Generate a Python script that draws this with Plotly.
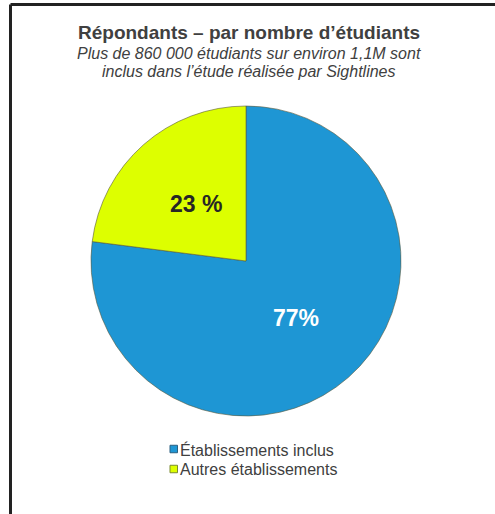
import math
import plotly.graph_objects as go

labels = ["Établissements inclus", "Autres établissements"]
values = [77, 23]
text_labels = ["77%", "23 %"]
colors = ["#1E96D4", "#DDFF00"]
text_colors = ["#FFFFFF", "#262626"]
legend_borders = ["#2a5f80", "#7a8a30"]

W, H = 495, 514
cx, cy, r = 246, 261, 155
FONT = "Liberation Sans, Arial"

fig = go.Figure(go.Pie(
    labels=labels, values=values, text=text_labels,
    textinfo="none",
    marker=dict(colors=colors, line=dict(color="rgba(90,90,60,0.6)", width=1)),
    sort=False, direction="clockwise", rotation=0,
    domain=dict(x=[(cx - r) / W, (cx + r) / W], y=[(H - cy - r) / H, (H - cy + r) / H]),
    hoverinfo="label+percent",
    showlegend=False,
))

def px(x):
    return x / W

def py(y):
    return 1 - y / H

annotations = [
    dict(text="<b>Répondants – par nombre d’étudiants</b>", x=px(249), y=py(32),
         font=dict(size=19, color="#404040")),
    dict(text="<i>Plus de 860 000 étudiants sur environ 1,1M sont</i>", x=px(249), y=py(54),
         font=dict(size=16, color="#404040")),
    dict(text="<i>inclus dans l’étude réalisée par Sightlines</i>", x=px(249), y=py(72),
         font=dict(size=16, color="#404040")),
]
for a in annotations:
    a.update(xref="paper", yref="paper", showarrow=False, xanchor="center", yanchor="middle")

# slice labels placed at the middle angle of each slice (clockwise from 12 o'clock)
total = sum(values)
cum = 0
for v, t, c in zip(values, text_labels, text_colors):
    theta = 2 * math.pi * (cum + v / 2) / total
    cum += v
    lx = cx + 0.49 * r * math.sin(theta)
    ly = cy - 0.49 * r * math.cos(theta)
    annotations.append(dict(text=f"<b>{t}</b>", x=px(lx), y=py(ly), xref="paper", yref="paper",
                            showarrow=False, xanchor="center", yanchor="middle",
                            font=dict(size=23, color=c, family=FONT)))

# legend drawn as squares + text
shapes = [
    dict(type="line", xref="paper", yref="paper", x0=px(10.5), x1=1.01, y0=py(4.5), y1=py(4.5),
         line=dict(color="#222222", width=3)),
    dict(type="line", xref="paper", yref="paper", x0=px(10.5), x1=px(10.5), y0=py(4.5), y1=-0.01,
         line=dict(color="#222222", width=3)),
]
for i, (lab, col, bc) in enumerate(zip(labels, colors, legend_borders)):
    yc = 449 + 20 * i
    shapes.append(dict(type="rect", xref="paper", yref="paper",
                       x0=px(170), x1=px(177.5), y0=py(yc - 3.75), y1=py(yc + 3.75),
                       fillcolor=col, line=dict(color=bc, width=1)))
    annotations.append(dict(text=lab, x=px(178), y=py(yc + 0.5), xref="paper", yref="paper",
                            showarrow=False, xanchor="left", yanchor="middle",
                            font=dict(size=16, color="#404040")))

fig.update_layout(
    width=W, height=H,
    margin=dict(l=0, r=0, t=0, b=0),
    paper_bgcolor="white", plot_bgcolor="white",
    font=dict(family=FONT, color="#404040"),
    showlegend=False,
    annotations=annotations,
    shapes=shapes,
)

fig.write_html("out.html")
